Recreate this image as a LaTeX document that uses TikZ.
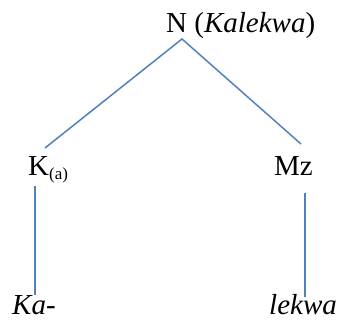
\documentclass[tikz,border=0pt]{standalone}
\usepackage{fontspec}
\setmainfont{Liberation Serif}
\definecolor{treeblue}{HTML}{4F81BD}
\begin{document}
\begin{tikzpicture}[x=1pt,y=1pt,
  lbl/.style={anchor=base west,inner sep=0pt,font=\fontsize{29}{33}\selectfont},
  branch/.style={draw=treeblue,line width=1.5pt}]
\useasboundingbox (0,0) rectangle (340,320);
\node[lbl] (n) at (166,287) {N (\textit{Kalekwa})};
\node[lbl] (k) at (28,144) {K\raisebox{-0.25ex}{\fontsize{17}{19}\selectfont(a)}};
\node[lbl] (mz) at (274,144) {Mz};
\node[lbl] (ka) at (12,5) {\textit{Ka-}};
\node[lbl] (lek) at (269,5) {\textit{lekwa}};
\coordinate (apex) at (182,281);
\coordinate (kt) at (45,172);
\coordinate (mt) at (301,176);
\coordinate (kb) at (35,134);
\coordinate (kab) at (35,25);
\coordinate (mb) at (305,127);
\coordinate (lekb) at (305,23);
\draw[branch] (kt) -- (apex) -- (mt);
\draw[branch] (kb) -- (kab);
\draw[branch] (mb) -- (lekb);
\end{tikzpicture}
\end{document}
